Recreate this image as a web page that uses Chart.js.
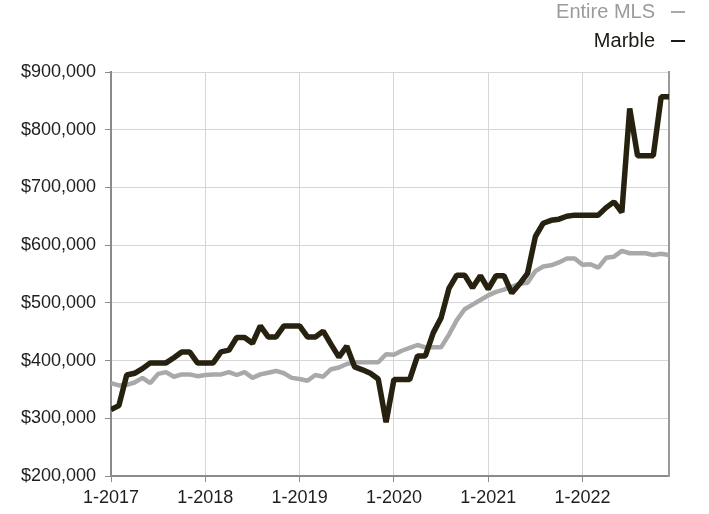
<!DOCTYPE html>
<html>
<head>
<meta charset="utf-8">
<script src="https://cdn.jsdelivr.net/npm/chart.js@4"></script>
<style>
html,body{margin:0;padding:0;background:#fff;}
#wrap{position:relative;width:709px;height:514px;}
</style>
</head>
<body>
<div id="wrap"><canvas id="c" width="709" height="514"></canvas></div>
<script>
// Months Jan 2017 .. Dec 2022
const yearTickLabels = ["1-2017","1-2018","1-2019","1-2020","1-2021","1-2022"];
const yTickValues = [200000,300000,400000,500000,600000,700000,800000,900000];
const seriesNames = ["Marble","Entire MLS"];

const marble = [
  315000,322000,375000,378000,386000,396000,396000,396000,405000,415000,415000,396000,
  396000,396000,415000,418000,440000,440000,430000,460000,441000,441000,460000,460000,
  460000,441000,441000,451000,428000,406000,425000,389000,384000,378000,368000,293000,
  367000,367000,367000,408000,408000,448000,474000,525000,548000,548000,526000,547000,
  524000,547000,547000,517000,533000,551000,615000,638000,643000,645000,650000,652000,
  652000,652000,652000,665000,675000,657000,837000,755000,755000,755000,857000,857000
];
const entireMLS = [
  361000,357000,358000,362000,370000,361000,377000,380000,372000,376000,376000,373000,
  375000,376000,376000,380000,375000,380000,370000,376000,379000,382000,378000,370000,
  368000,365000,375000,372000,385000,388000,394000,397000,397000,397000,397000,411000,
  410000,417000,422000,427000,423000,423000,423000,445000,470000,489000,497000,505000,
  513000,519000,523000,528000,533000,535000,555000,563000,565000,570000,577000,577000,
  566000,567000,561000,578000,580000,590000,586000,586000,586000,583000,585000,583000
];

const toXY = arr => arr.map((v,i)=>({x:i,y:v}));

const legendPlugin = {
  id:'customLegend',
  afterDraw(chart){
    const ctx = chart.ctx;
    ctx.save();
    ctx.font = '20px "Liberation Sans", Arial, sans-serif';
    ctx.textAlign = 'right';
    ctx.textBaseline = 'middle';
    const items = [
      {text: seriesNames[1], color:'#9b9b9b', line:'#a8a8a8', y:12},
      {text: seriesNames[0], color:'#1c1a14', line:'#1c1a14', y:41}
    ];
    items.forEach(it=>{
      ctx.fillStyle = it.color;
      ctx.fillText(it.text, 655, it.y);
      ctx.strokeStyle = it.line;
      ctx.lineWidth = 2;
      ctx.beginPath();
      ctx.moveTo(671, it.y);
      ctx.lineTo(685, it.y);
      ctx.stroke();
    });
    ctx.restore();
  }
};

const tickFont = {family:'"Liberation Sans", Arial, sans-serif', size:18};

new Chart(document.getElementById('c'), {
  type:'line',
  data:{
    datasets:[
      {label:seriesNames[0], data:toXY(marble), borderColor:'#27210f', borderWidth:5.5,
       pointRadius:0, tension:0, borderJoinStyle:'bevel', order:0},
      {label:seriesNames[1], data:toXY(entireMLS), borderColor:'#a9a9a9', borderWidth:4.5,
       pointRadius:0, tension:0, borderJoinStyle:'bevel', order:1}
    ]
  },
  options:{
    responsive:false,
    animation:false,
    layout:{padding:{top:72,right:40,left:0,bottom:0}},
    plugins:{legend:{display:false}, tooltip:{enabled:false}},
    scales:{
      x:{
        type:'linear', min:0, max:71,
        afterBuildTicks(scale){ scale.ticks = yearTickLabels.map((l,i)=>({value:i*12})); },
        afterFit(scale){ scale.height = 38; },
        ticks:{font:tickFont, color:'#1e1e1e', padding:5, maxRotation:0,
               callback:(v,i)=>yearTickLabels[i]},
        grid:{color:'#d6d6d6', lineWidth:1, tickLength:6, tickColor:'#8a8a8a'},
        border:{color:'#8a8a8a', width:2}
      },
      y:{
        min:200000, max:900000,
        afterBuildTicks(scale){ scale.ticks = yTickValues.map(v=>({value:v})); },
        afterFit(scale){ scale.width = 111; },
        ticks:{font:tickFont, color:'#1e1e1e', padding:9,
               callback:v=>'$'+v.toLocaleString('en-US')},
        grid:{color:'#d6d6d6', lineWidth:1, tickLength:6, tickColor:'#8a8a8a'},
        border:{color:'#8a8a8a', width:2}
      },
      y2:{
        position:'right', min:200000, max:900000,
        afterFit(scale){ scale.width = 0; },
        ticks:{display:false},
        grid:{display:false, drawTicks:false},
        border:{color:'#9a9a9a', width:2}
      }
    }
  },
  plugins:[legendPlugin]
});
</script>
</body>
</html>
